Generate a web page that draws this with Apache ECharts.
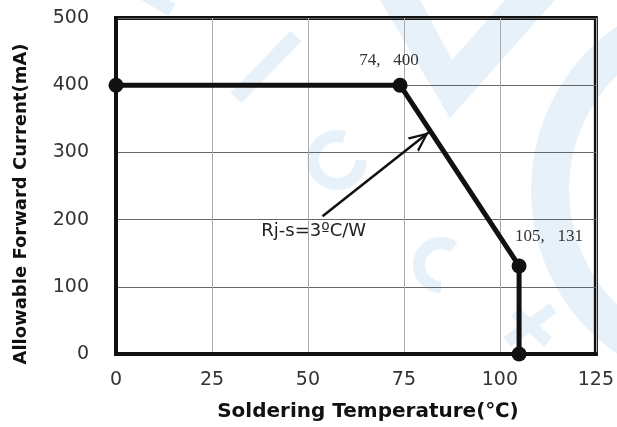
<!DOCTYPE html>
<html><head><meta charset="utf-8">
<script src="https://cdn.jsdelivr.net/npm/echarts@6/dist/echarts.min.js"></script>
<style>html,body{margin:0;padding:0;background:#fff}#c{width:617px;height:427px}</style>
</head><body><div id="c"></div>
<script>
const temps = [0, 74, 105, 105];
const currents = [400, 400, 131, 0];
const pointLabels = ['', '74,   400', '105,   131', ''];
const xTicks = [0, 25, 50, 75, 100, 125];
const yTicks = [0, 100, 200, 300, 400, 500];
const annotationText = 'Rj-s=3ºC/W';
const annotationAt = [51.5, 182];
const arrowFrom = [53.8, 205];
const arrowTo = [81.5, 330];

const wm = '#e6f1f9';
const chart = echarts.init(document.getElementById('c'), null, {renderer: 'canvas'});
const labelCfg = [
  {},
  {show: true, position: 'top', offset: [-11, -4]},
  {show: true, position: 'top', align: 'left', offset: [-4, -8]},
  {}
];
const lineData = temps.map((t, i) => ({
  value: [t, currents[i]],
  label: Object.assign({show: false, formatter: pointLabels[i]}, labelCfg[i])
}));
chart.setOption({
  animation: false,
  backgroundColor: '#fff',
  graphic: {elements: [
    {type: 'line', z: -10, shape: {x1: 236, y1: 98, x2: 296, y2: 36}, style: {stroke: wm, lineWidth: 15}},
    {type: 'line', z: -10, shape: {x1: 138, y1: -10, x2: 172, y2: 10}, style: {stroke: wm, lineWidth: 14}},
    {type: 'arc', z: -10, shape: {cx: 337, cy: 160, r: 24, startAngle: 0, endAngle: Math.PI * 1.6}, style: {stroke: wm, lineWidth: 12, fill: null}},
    {type: 'arc', z: -10, shape: {cx: 441, cy: 265, r: 22, startAngle: Math.PI * 0.5, endAngle: Math.PI * 1.7}, style: {stroke: wm, lineWidth: 12, fill: null}},
    {type: 'line', z: -10, shape: {x1: 507, y1: 342, x2: 553, y2: 308}, style: {stroke: wm, lineWidth: 12}},
    {type: 'line', z: -10, shape: {x1: 515, y1: 312, x2: 548, y2: 342}, style: {stroke: wm, lineWidth: 12}},
    {type: 'polygon', z: -10, shape: {points: [[380, 0], [420, 0], [452, 60], [505, 0], [555, 0], [450, 118]]}, style: {fill: wm}},
    {type: 'arc', z: -10, shape: {cx: 730, cy: 190, r: 180, startAngle: Math.PI * 0.62, endAngle: Math.PI * 1.4}, style: {stroke: wm, lineWidth: 38, fill: null}}
  ]},
  grid: {left: 116, right: 19, top: 18, bottom: 72, show: true, borderColor: '#111', borderWidth: 4, containLabel: false},
  xAxis: {
    type: 'value', min: xTicks[0], max: xTicks[xTicks.length - 1], interval: 25,
    name: 'Soldering Temperature(℃)', nameLocation: 'middle', nameGap: 48,
    nameTextStyle: {fontFamily: 'DejaVu Sans', fontWeight: 'bold', fontSize: 20, color: '#111', padding: [0, 0, 0, 24]},
    axisLine: {show: true, lineStyle: {color: '#111', width: 4}},
    axisTick: {show: false},
    axisLabel: {fontFamily: 'DejaVu Sans', fontSize: 19, color: '#333', margin: 17},
    splitLine: {show: true, lineStyle: {color: '#aaa', width: 1}}
  },
  yAxis: {
    type: 'value', min: yTicks[0], max: yTicks[yTicks.length - 1], interval: 100,
    name: 'Allowable Forward Current(mA)', nameLocation: 'middle', nameGap: 86,
    nameTextStyle: {fontFamily: 'DejaVu Sans', fontWeight: 'bold', fontSize: 18, color: '#111', padding: [0, 36, 0, 0]},
    axisLine: {show: true, lineStyle: {color: '#111', width: 4}},
    axisTick: {show: false},
    axisLabel: {fontFamily: 'DejaVu Sans', fontSize: 19, color: '#333', margin: 27},
    splitLine: {show: true, lineStyle: {color: '#666', width: 1}}
  },
  series: [
    {
      type: 'line', data: lineData,
      symbol: 'circle', symbolSize: 15,
      lineStyle: {color: '#111', width: 5},
      itemStyle: {color: '#111'},
      label: {fontFamily: 'Liberation Serif', fontSize: 17, color: '#333'},
      z: 5
    },
    {
      type: 'line', data: [], silent: true,
      markLine: {
        silent: true,
        symbol: ['none', 'path://M50,0 L100,100 L86,100 L50,26 L14,100 L0,100 Z'],
        symbolSize: [18, 20], symbolOffset: [0, [0, 10]],
        lineStyle: {color: '#111', width: 2.5, type: 'solid'},
        label: {show: false},
        data: [[{coord: arrowFrom}, {coord: arrowTo}]]
      },
      markPoint: {
        silent: true, symbol: 'rect', symbolSize: 1, itemStyle: {color: 'transparent'},
        label: {show: true, formatter: annotationText, fontFamily: 'DejaVu Sans', fontSize: 18, color: '#222', position: 'inside'},
        data: [{coord: annotationAt}]
      }
    }
  ]
});
</script></body></html>
